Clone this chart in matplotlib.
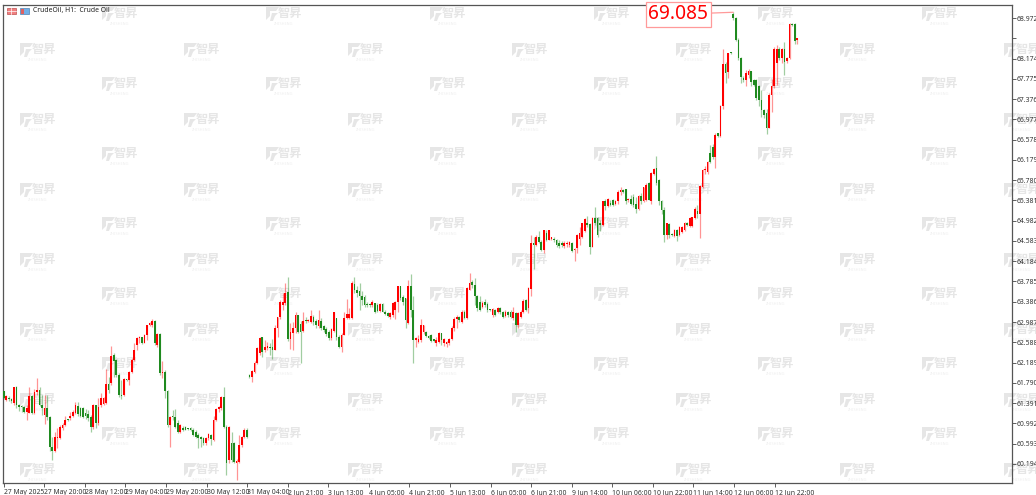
import numpy as np
import matplotlib
matplotlib.use('Agg')
import matplotlib.pyplot as plt
from matplotlib.patches import Rectangle, Polygon

W, H = 1036, 495

# hourly candles
opens = [
    61.62, 61.45, 61.49, 61.47, 61.40, 61.71, 61.35, 61.33, 61.31, 61.22,
    61.19, 61.54, 61.19, 61.60, 61.65, 61.35, 61.16, 61.29, 61.11, 60.52,
    60.44, 60.70, 60.70, 60.90, 60.96, 61.06, 61.09, 61.14, 61.19, 61.33,
    61.29, 61.29, 61.19, 61.18, 61.11, 60.93, 61.35, 60.99, 61.35, 61.37,
    61.39, 61.77, 61.78, 62.34, 62.24, 61.94, 61.55, 61.55, 61.86, 61.85,
    62.01, 62.24, 62.53, 62.67, 62.69, 62.58, 62.73, 62.93, 62.92, 63.01,
    62.53, 62.76, 61.98, 62.01, 61.62, 60.96, 61.12, 61.12, 60.99, 60.83,
    60.91, 60.93, 60.90, 60.91, 60.87, 60.83, 60.76, 60.71, 60.70, 60.60,
    60.70, 60.76, 60.66, 61.06, 61.28, 61.29, 61.52, 60.93, 60.27, 60.60,
    60.60, 60.22, 60.24, 60.57, 60.73, 60.86,
    61.95, 61.90, 62.01, 62.18, 62.37, 62.69, 62.44, 62.47, 62.50, 62.49,
    62.44, 62.86, 63.08, 63.32, 63.36, 63.57, 62.65, 62.78, 62.86, 63.13,
    62.95, 62.81, 63.01, 63.00, 62.99, 63.09, 63.01, 62.90, 63.01, 62.90,
    62.85, 62.80, 62.67, 62.81, 63.06, 62.70, 62.49, 62.73, 63.06, 63.06,
    63.06, 63.74, 63.62, 63.59, 63.49, 63.48, 63.34, 63.33, 63.32, 63.36,
    63.32, 63.21, 63.34, 63.19, 63.16, 63.09, 63.13, 63.23, 63.39, 63.69,
    63.48, 63.46, 62.96, 63.69, 63.23, 62.64, 62.60, 62.64, 62.80, 62.80,
    62.72, 62.73, 62.64, 62.57, 62.60, 62.77, 62.57, 62.56, 62.58, 62.65,
    62.86, 63.04, 63.08, 62.99, 63.19, 63.06, 63.62, 63.78, 63.72, 63.49,
    63.39, 63.29, 63.39, 63.34, 63.23, 63.13, 63.23, 63.19, 63.26, 63.19,
    63.11, 63.19, 63.19, 63.06, 63.16, 62.93, 63.09, 63.19, 63.42, 63.26,
    63.64, 64.54, 64.50, 64.67, 64.57, 64.40, 64.73, 64.61, 64.63, 64.63,
    64.60, 64.55, 64.55, 64.48, 64.52, 64.50, 64.54, 64.40, 64.44, 64.63,
    64.67, 64.77, 64.93, 64.92, 64.47, 65.03, 65.03, 64.93, 64.90, 65.36,
    65.28, 65.32, 65.38, 65.32, 65.36, 65.55, 65.59, 65.60, 65.38, 65.40,
    65.45, 65.32, 65.22, 65.47, 65.37, 65.39, 65.72, 65.36, 65.91, 66.01,
    65.78, 65.36, 65.19, 64.70, 64.92, 64.71, 64.69, 64.79, 64.70, 64.75,
    64.79, 64.93, 64.88, 64.88, 65.03, 65.17, 65.11, 65.65, 65.98, 65.95,
    66.31, 66.44, 66.24,
    66.70, 66.64, 67.23, 68.06, 67.90, 68.29, 69.06, 68.97, 68.54, 68.18,
    67.80, 67.75, 67.85, 67.92, 67.76, 67.76, 67.63, 67.36, 67.16, 67.10,
    66.80, 67.46, 67.63, 68.08, 68.37, 68.18, 68.37, 68.13, 68.18, 68.85,
    68.85, 68.54,
]
closes = [
    61.49, 61.53, 61.47, 61.43, 61.70, 61.35, 61.32, 61.31, 61.22, 61.29,
    61.54, 61.19, 61.60, 61.65, 61.35, 61.29, 61.29, 61.11, 60.52, 60.44,
    60.72, 60.71, 60.93, 60.96, 61.06, 61.05, 61.14, 61.22, 61.35, 61.18,
    61.14, 61.12, 61.14, 61.09, 60.93, 61.35, 60.99, 61.32, 61.49, 61.49,
    61.77, 61.64, 62.31, 62.21, 61.94, 61.55, 61.53, 61.86, 61.85, 62.01,
    62.24, 62.44, 62.67, 62.69, 62.57, 62.73, 62.92, 62.97, 63.01, 62.57,
    62.76, 61.98, 62.01, 61.62, 60.96, 61.12, 61.11, 60.93, 60.83, 60.96,
    60.86, 60.87, 60.88, 60.86, 60.76, 60.73, 60.70, 60.69, 60.60, 60.70,
    60.78, 60.68, 61.06, 61.28, 61.31, 61.52, 60.93, 60.21, 60.93, 60.27,
    60.24, 60.26, 60.57, 60.73, 60.86, 60.73,
    61.90, 62.03, 62.19, 62.47, 62.67, 62.39, 62.49, 62.52, 62.47, 62.44,
    62.86, 63.08, 63.39, 63.39, 63.55, 62.65, 62.80, 62.86, 63.13, 62.80,
    62.80, 63.01, 63.00, 63.01, 63.11, 62.99, 62.92, 63.02, 62.86, 62.83,
    62.75, 62.67, 62.85, 63.18, 62.70, 62.49, 62.73, 63.06, 63.14, 63.14,
    63.76, 63.61, 63.55, 63.49, 63.42, 63.32, 63.32, 63.32, 63.39, 63.19,
    63.21, 63.34, 63.19, 63.15, 63.11, 63.16, 63.36, 63.39, 63.69, 63.46,
    63.39, 63.03, 63.69, 63.23, 62.64, 62.65, 62.66, 62.93, 62.93, 62.71,
    62.67, 62.62, 62.62, 62.64, 62.77, 62.64, 62.65, 62.60, 62.65, 62.86,
    63.04, 63.09, 63.02, 63.19, 63.06, 63.65, 63.76, 63.72, 63.49, 63.26,
    63.23, 63.37, 63.32, 63.23, 63.22, 63.24, 63.13, 63.27, 63.19, 63.09,
    63.19, 63.13, 63.09, 63.19, 62.93, 63.16, 63.19, 63.41, 63.23, 63.65,
    64.54, 64.50, 64.67, 64.57, 64.40, 64.79, 64.60, 64.79, 64.64, 64.60,
    64.50, 64.48, 64.50, 64.55, 64.55, 64.57, 64.39, 64.42, 64.70, 64.73,
    64.93, 65.02, 64.90, 64.47, 65.03, 64.93, 64.71, 64.90, 65.36, 65.28,
    65.40, 65.30, 65.29, 65.36, 65.55, 65.59, 65.55, 65.36, 65.40, 65.32,
    65.29, 65.22, 65.47, 65.36, 65.64, 65.68, 65.39, 65.93, 65.99, 65.72,
    65.36, 65.19, 64.70, 64.93, 64.70, 64.70, 64.79, 64.68, 64.85, 64.85,
    64.94, 64.90, 65.03, 65.05, 65.22, 65.11, 65.66, 65.98, 65.99, 66.14,
    66.14, 66.24, 66.67,
    66.64, 67.23, 68.06, 67.88, 68.28, 68.28, 68.97, 68.54, 68.18, 67.82,
    67.75, 67.88, 67.92, 67.72, 67.65, 67.39, 67.36, 67.17, 67.06, 66.80,
    67.46, 67.63, 68.37, 68.37, 68.18, 68.37, 68.11, 68.18, 68.85, 68.83,
    68.51, 68.57,
]
highs = [
    61.63, 61.55, 61.53, 61.49, 61.71, 61.73, 61.37, 61.35, 61.33, 61.35,
    61.70, 61.55, 61.66, 61.88, 61.70, 61.55, 61.55, 61.55, 61.14, 60.73,
    60.83, 60.90, 60.96, 60.99, 61.14, 61.07, 61.22, 61.26, 61.42, 61.42,
    61.31, 61.31, 61.27, 61.26, 61.16, 61.37, 61.35, 61.49, 61.58, 61.52,
    62.06, 61.91, 62.52, 62.37, 62.25, 61.98, 61.85, 61.88, 61.87, 62.03,
    62.27, 62.57, 62.70, 62.71, 62.70, 62.75, 62.93, 62.99, 63.05, 63.03,
    62.78, 62.78, 62.21, 62.04, 61.65, 61.14, 61.26, 61.27, 61.06, 60.97,
    60.94, 60.94, 60.91, 60.93, 60.90, 60.86, 60.80, 60.74, 60.73, 60.73,
    60.81, 60.78, 61.14, 61.29, 61.33, 61.53, 61.70, 60.96, 60.94, 60.83,
    60.63, 60.30, 60.76, 60.74, 60.91, 60.90,
    61.97, 62.05, 62.21, 62.49, 62.69, 62.70, 62.64, 62.60, 62.57, 62.65,
    62.93, 63.09, 63.42, 63.55, 63.76, 63.87, 62.96, 62.98, 63.19, 63.13,
    63.00, 63.18, 63.09, 63.04, 63.23, 63.13, 63.04, 63.23, 63.06, 62.93,
    62.88, 62.83, 62.87, 63.19, 63.06, 62.73, 62.77, 63.19, 63.44, 63.26,
    63.80, 63.87, 63.70, 63.75, 63.59, 63.52, 63.39, 63.37, 63.42, 63.37,
    63.36, 63.36, 63.36, 63.23, 63.19, 63.19, 63.39, 63.41, 63.70, 63.70,
    63.52, 63.46, 63.82, 63.93, 63.49, 62.69, 62.73, 63.04, 62.93, 62.82,
    62.74, 62.75, 62.66, 62.69, 62.80, 62.78, 62.67, 62.62, 62.67, 62.90,
    63.09, 63.13, 63.11, 63.23, 63.23, 63.67, 63.96, 63.82, 63.85, 63.52,
    63.49, 63.41, 63.44, 63.39, 63.24, 63.26, 63.25, 63.29, 63.29, 63.21,
    63.23, 63.21, 63.23, 63.29, 63.19, 63.19, 63.23, 63.44, 63.44, 63.67,
    64.70, 64.67, 64.70, 64.77, 64.60, 64.80, 64.79, 64.80, 64.67, 64.67,
    64.63, 64.60, 64.59, 64.59, 64.58, 64.58, 64.57, 64.44, 64.72, 64.86,
    64.94, 65.03, 65.08, 64.93, 65.05, 65.26, 65.06, 65.00, 65.37, 65.40,
    65.42, 65.38, 65.40, 65.39, 65.59, 65.65, 65.61, 65.61, 65.42, 65.49,
    65.51, 65.45, 65.49, 65.52, 65.65, 65.72, 65.75, 65.95, 66.01, 66.26,
    65.80, 65.39, 65.26, 64.94, 64.93, 64.73, 64.81, 64.81, 64.88, 64.88,
    64.96, 64.96, 65.05, 65.06, 65.26, 65.29, 65.68, 65.99, 66.05, 66.16,
    66.47, 66.49, 66.70,
    66.71, 67.26, 68.36, 68.11, 68.29, 68.31, 69.085, 68.99, 68.57, 68.21,
    67.83, 67.95, 67.96, 67.92, 67.78, 67.78, 67.65, 67.55, 67.19, 67.19,
    67.49, 67.78, 68.41, 68.44, 68.41, 68.39, 68.49, 68.20, 68.87, 68.87,
    68.87, 68.58,
]
lows = [
    61.47, 61.43, 61.44, 61.40, 61.35, 61.29, 61.24, 61.22, 61.19, 61.06,
    61.19, 61.18, 61.18, 61.55, 61.33, 61.16, 60.98, 61.06, 60.44, 60.27,
    60.42, 60.50, 60.68, 60.86, 60.94, 61.03, 61.06, 61.11, 61.18, 61.14,
    61.11, 61.09, 61.07, 61.03, 60.83, 60.88, 60.90, 60.96, 61.32, 61.35,
    61.37, 61.58, 61.75, 61.91, 61.91, 61.52, 61.47, 61.53, 61.83, 61.75,
    61.98, 62.21, 62.44, 62.57, 62.55, 62.57, 62.63, 62.90, 62.88, 62.53,
    62.50, 61.94, 61.88, 61.49, 60.93, 60.53, 61.06, 60.90, 60.80, 60.81,
    60.84, 60.86, 60.86, 60.84, 60.74, 60.70, 60.50, 60.53, 60.57, 60.57,
    60.66, 60.57, 60.65, 61.03, 61.22, 61.26, 60.90, 59.98, 60.21, 60.24,
    60.21, 59.88, 60.22, 60.53, 60.70, 60.70,
    61.88, 61.81, 61.99, 62.16, 62.34, 62.29, 62.39, 62.44, 62.34, 62.26,
    62.43, 62.70, 63.04, 63.23, 63.32, 62.62, 62.45, 62.43, 62.77, 62.77,
    62.18, 62.80, 62.96, 62.98, 62.96, 62.93, 62.86, 62.86, 62.83, 62.80,
    62.71, 62.64, 62.64, 62.80, 62.64, 62.47, 62.39, 62.73, 63.04, 63.04,
    63.04, 63.55, 63.48, 63.23, 63.32, 63.29, 63.29, 63.29, 63.29, 63.16,
    63.19, 63.19, 63.18, 63.12, 63.08, 63.04, 63.09, 63.04, 63.19, 63.42,
    63.32, 62.86, 62.95, 63.09, 62.18, 62.49, 62.57, 62.60, 62.75, 62.69,
    62.65, 62.59, 62.60, 62.52, 62.57, 62.54, 62.52, 62.49, 62.54, 62.64,
    62.82, 62.86, 62.98, 62.96, 63.04, 63.04, 63.61, 63.65, 63.32, 63.21,
    63.21, 63.26, 63.29, 63.19, 63.21, 63.09, 63.11, 63.16, 63.15, 63.07,
    63.08, 63.09, 63.06, 63.03, 62.80, 62.86, 63.06, 63.16, 63.21, 63.17,
    63.49, 64.04, 64.48, 64.54, 64.39, 64.34, 64.59, 64.60, 64.60, 64.57,
    64.47, 64.44, 64.46, 64.44, 64.47, 64.47, 64.37, 64.18, 64.34, 64.50,
    64.65, 64.75, 64.85, 64.33, 64.46, 64.90, 64.67, 64.77, 64.88, 65.19,
    65.26, 65.28, 65.27, 65.29, 65.32, 65.49, 65.52, 65.32, 65.35, 65.29,
    65.26, 65.14, 65.19, 65.32, 65.35, 65.37, 65.38, 65.32, 65.88, 65.68,
    65.29, 65.11, 64.56, 64.63, 64.65, 64.68, 64.67, 64.59, 64.68, 64.73,
    64.77, 64.88, 64.86, 64.85, 65.01, 65.03, 64.65, 65.62, 65.91, 65.91,
    66.11, 66.19, 66.01,
    66.62, 66.62, 67.19, 67.70, 67.80, 68.26, 68.93, 68.51, 68.14, 67.70,
    67.72, 67.63, 67.80, 67.63, 67.63, 67.36, 67.24, 67.03, 67.00, 66.69,
    66.80, 67.13, 67.59, 67.65, 68.14, 68.09, 67.85, 68.08, 68.16, 68.81,
    68.47, 68.47,
]

y_ticks = [68.972, 68.573, 68.174, 67.775, 67.376, 66.977, 66.578, 66.179,
           65.780, 65.381, 64.982, 64.583, 64.184, 63.785, 63.386, 62.987,
           62.588, 62.189, 61.790, 61.391, 60.992, 60.593, 60.194]
x_labels = ['27 May 2025', '27 May 20:00', '28 May 12:00', '29 May 04:00',
            '29 May 20:00', '30 May 12:00', '31 May 04:00', '2 Jun 21:00',
            '3 Jun 13:00', '4 Jun 05:00', '4 Jun 21:00', '5 Jun 13:00',
            '6 Jun 05:00', '6 Jun 21:00', '9 Jun 14:00', '10 Jun 06:00',
            '10 Jun 22:00', '11 Jun 14:00', '12 Jun 06:00', '12 Jun 22:00']
peak_label = '69.085'

UP = '#ff0000'
DOWN = '#1f8a1f'
MARK = '#e6e6e6'
plt.rcParams['font.family'] = ['Noto Sans', 'DejaVu Sans']

fig = plt.figure(figsize=(W / 100, H / 100), dpi=100, facecolor='white')

# chart area in pixels: 3.3..1011.5 across, 4.5..483 down
ax = fig.add_axes([3.3 / W, 1 - 483 / H, (1011.5 - 3.3) / W, (483 - 4.5) / H])
ax.set_facecolor('none')
ax.set_zorder(2)

# pixel overlay under the chart for the watermark and header icons
bg = fig.add_axes([0, 0, 1, 1], zorder=1)
bg.set_xlim(0, W)
bg.set_ylim(H, 0)
bg.axis('off')


def watermark(cx, cy):
    # small F-shaped mark on the left, then the name
    bg.add_patch(Polygon([(cx - 18, cy - 7), (cx - 5, cy - 7), (cx - 8, cy - 3),
                          (cx - 14, cy - 3), (cx - 14, cy + 2), (cx - 18, cy + 6)],
                         closed=True, fc=MARK, ec='none'))
    bg.add_patch(Polygon([(cx - 12, cy - 1), (cx - 6, cy - 1), (cx - 9, cy + 2),
                          (cx - 11, cy + 7), (cx - 14, cy + 7)],
                         closed=True, fc=MARK, ec='none'))
    bg.text(cx + 6, cy - 1, '智昇', family=['Noto Sans CJK SC', 'DejaVu Sans'],
            fontsize=8.8, fontweight='bold', color=MARK, ha='center', va='center')
    bg.text(cx, cy + 10, 'ZHISHENG', fontsize=2.8, color='#eeeeee',
            ha='center', va='center')


for col in range(13):
    cx = 38 + 82 * col
    start = 50 if col % 2 == 0 else 14
    for row in range(7):
        watermark(cx, start + 70 * row)

# header icons
bg.add_patch(Rectangle((6.5, 8), 9, 6, fc='#f08080', ec='#c05050', lw=0.5))
bg.plot([6.5, 15.5], [11, 11], color='white', lw=0.5)
bg.plot([11, 11], [8, 14], color='white', lw=0.5)
bg.add_patch(Rectangle((20, 8), 9, 6, fc='#70b0e8', ec='#5080b0', lw=0.5))
bg.add_patch(Rectangle((21, 9), 3, 5, fc='#e06060', ec='none'))
bg.text(33, 10.5, 'CrudeOil, H1:  Crude Oil', fontsize=4.9, color='#222222',
        ha='left', va='center')

# candles
idx = np.arange(len(closes))
o = np.array(opens)
c = np.array(closes)
hi = np.array(highs)
lo = np.array(lows)
colors = [UP if cl >= op else DOWN for op, cl in zip(o, c)]

ax.vlines(idx, lo, hi, colors=colors, linewidth=0.9, alpha=0.42, zorder=2)
ax.bar(idx, np.maximum(np.abs(c - o), 0.025), bottom=np.minimum(o, c),
       width=0.66, color=colors, linewidth=0, zorder=3)

ax.set_xlim(-0.15, 393.7)
ax.set_ylim(59.818, 69.238)

# tick step on the axis is a touch under 16 bars in the picture
ax.set_xticks(np.arange(len(x_labels)) * 15.85)
ax.set_xticklabels(x_labels, ha='left')
ax.yaxis.tick_right()
ax.set_yticks(y_ticks)
ax.set_yticklabels(['' if t == 68.573 else f'{t:.3f}' for t in y_ticks])
ax.tick_params(axis='both', length=3, width=0.6, color='#444444', labelsize=4.9,
               labelcolor='#333333', pad=1)
ax.tick_params(axis='x', pad=1.5)
for s in ax.spines.values():
    s.set_color('#555555')
    s.set_linewidth(0.9)

# highest point label
peak = int(np.argmax(hi))
ax.annotate(peak_label, xy=(peak, hi[peak]), xytext=(-25, -2),
            textcoords='offset pixels', ha='right', va='center',
            fontsize=13.8, color='#ff0000', zorder=5, annotation_clip=False,
            bbox=dict(boxstyle='square,pad=0.12', fc='white', ec='#ff9a9a', lw=0.9),
            arrowprops=dict(arrowstyle='-', color='#ff9a9a', lw=0.9,
                            shrinkA=0, shrinkB=0))

fig.savefig('out.png', dpi=100)
